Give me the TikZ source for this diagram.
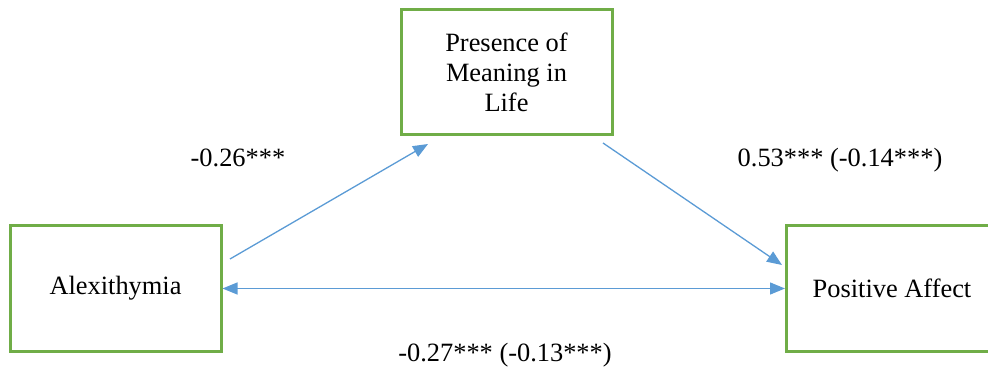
\documentclass[tikz,border=0pt]{standalone}
\usepackage{fontspec}
\setmainfont{Liberation Serif}
\newfontfamily\tnrfont{Liberation Serif}
\usetikzlibrary{arrows.meta}
\definecolor{boxgreen}{HTML}{70AD47}
\definecolor{arrblue}{HTML}{5B9BD5}
\begin{document}
\begin{tikzpicture}[x=1pt,y=-1pt,
  varbox/.style={draw=boxgreen, line width=3pt, fill=white, minimum width=211pt, minimum height=125pt, align=center, inner sep=0pt, font=\tnrfont\fontsize{26.4}{30}\selectfont},
  lbl/.style={font=\tnrfont\fontsize{26.4}{30}\selectfont, inner sep=0pt},
  conn/.style={draw=arrblue, line width=1.3pt, -{Triangle[length=15pt,width=12pt]}}]
\useasboundingbox (0,0) rectangle (988,371);
\begin{scope}
\clip (0,0) rectangle (988,371);
\node[varbox] (pml) at (506.5,72.5) {Presence of\\Meaning in\\Life};
\node[varbox] (alx) at (115.5,288.5) {Alexithymia};
\node[varbox] (pa) at (892,288.5) {Positive Affect};
\end{scope}
\coordinate (a1s) at (230,259);
\coordinate (a1e) at (428,144);
\coordinate (a2s) at (603,143);
\coordinate (a2e) at (782,265);
\draw[conn] (a1s) -- (a1e);
\draw[conn] (a2s) -- (a2e);
\draw[conn, {Triangle[length=15pt,width=12pt]}-{Triangle[length=15pt,width=12pt]}] (alx.east) -- (pa.west);
\node[lbl] (l1) at (238,158) {-0.26***};
\node[lbl] (l2) at (840,160) {0.53*** (-0.14***)};
\node[lbl] (l3) at (505,355) {-0.27*** (-0.13***)};
\end{tikzpicture}
\end{document}
